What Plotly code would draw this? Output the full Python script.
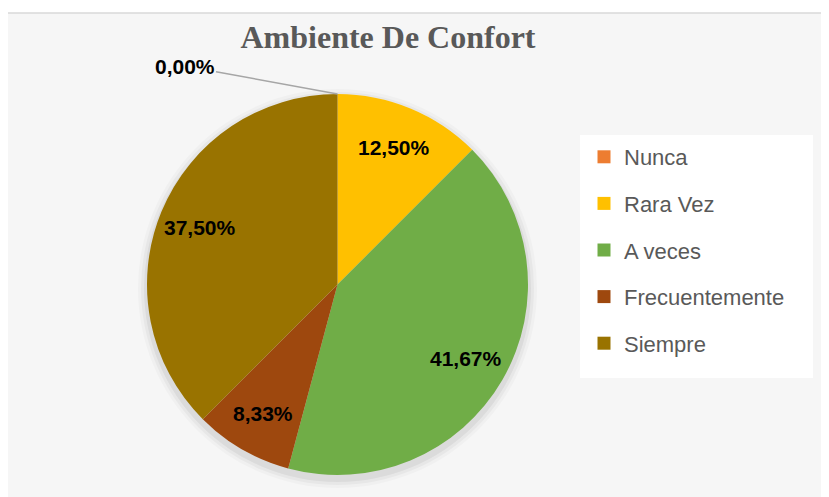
import math
import plotly.graph_objects as go

categories = ["Nunca", "Rara Vez", "A veces", "Frecuentemente", "Siempre"]
values = [0, 3, 10, 2, 9]
colors = ["#ED7D31", "#FFC000", "#70AD47", "#9E480E", "#997300"]
title_text = "Ambiente De Confort"

W, H = 829, 497
OX, OY = 8, 8  # page body margin offset


def px(x):
    return (x - OX) / W


def py(y):
    return 1 - (y - OY) / H


total = sum(values)
pct_text = [("%.2f%%" % (100 * v / total)).replace(".", ",") for v in values]

# pie placement (pixels)
left, right, top, bottom = 146, 529, 94, 475
dom_x = [px(left), px(right)]
dom_y = [py(bottom), py(top)]
cx, cy = (left + right) / 2, (top + bottom) / 2
R = min(right - left, bottom - top) / 2

fig = go.Figure()

# soft shadow layers
for i, (grow, a) in enumerate([(9, 0.025), (6, 0.035), (3, 0.05)]):
    gx, gy = grow / W, grow / H
    off = 4 / H
    fig.add_trace(go.Pie(
        values=[1], labels=["s%d" % i], marker=dict(colors=["rgba(0,0,0,%g)" % a]),
        domain=dict(x=[dom_x[0] - gx, dom_x[1] + gx], y=[dom_y[0] - gy - off, dom_y[1] + gy - off]),
        textinfo="none", hoverinfo="skip", showlegend=False, sort=False))

label_font = dict(family="Liberation Sans", size=21, color="black", weight="bold")

fig.add_trace(go.Pie(
    labels=categories, values=values, textinfo="none",
    marker=dict(colors=colors, line=dict(width=0)),
    direction="clockwise", sort=False, rotation=0,
    domain=dict(x=dom_x, y=dom_y), showlegend=False))

# data labels at ~0.78 R along each slice's mid-angle (clockwise from 12 o'clock)
cum = 0
for v, t in zip(values, pct_text):
    mid = (cum + v / 2) / total * 2 * math.pi
    cum += v
    if v == 0:
        continue
    lx = cx + 0.78 * R * math.sin(mid)
    ly = cy - 0.78 * R * math.cos(mid)
    fig.add_annotation(x=px(lx), y=py(ly), xref="paper", yref="paper", text=t,
                       showarrow=False, font=label_font, xanchor="center", yanchor="middle")

for c, col in zip(categories, colors):
    fig.add_trace(go.Scatter(x=[None], y=[None], mode="markers", name=c,
                             marker=dict(symbol="square", size=13, color=col),
                             legendgroup=c, showlegend=True))

# label for the zero slice
fig.add_annotation(x=px(cx), y=py(top), xref="paper", yref="paper",
                   text=pct_text[0], showarrow=True, arrowhead=0,
                   arrowwidth=1.5, arrowcolor="#a6a6a6", ax=-153, ay=-28,
                   font=label_font, xanchor="center")

fig.update_layout(
    width=W, height=H, margin=dict(l=0, r=0, t=0, b=0),
    paper_bgcolor="white", plot_bgcolor="rgba(0,0,0,0)",
    xaxis=dict(visible=False), yaxis=dict(visible=False),
    title=dict(text="<b>" + title_text + "</b>", x=px(388), xanchor="center",
               y=py(37), yanchor="middle",
               font=dict(family="Liberation Serif", size=32, color="#595959")),
    legend=dict(x=px(584), y=py(136), xanchor="left", yanchor="top",
                bgcolor="rgba(0,0,0,0)", tracegroupgap=15,
                font=dict(family="Liberation Sans", size=22, color="#595959")),
    shapes=[
        dict(type="rect", xref="paper", yref="paper", x0=px(7), x1=1.05, y0=-0.05, y1=py(13),
             fillcolor="#f6f6f6", line=dict(color="#d9d9d9", width=1.5), layer="below"),
        dict(type="rect", xref="paper", yref="paper", x0=px(580), x1=px(813), y0=py(378), y1=py(135),
             fillcolor="white", line=dict(width=0), layer="below"),
    ],
)

fig.write_html("out.html")
